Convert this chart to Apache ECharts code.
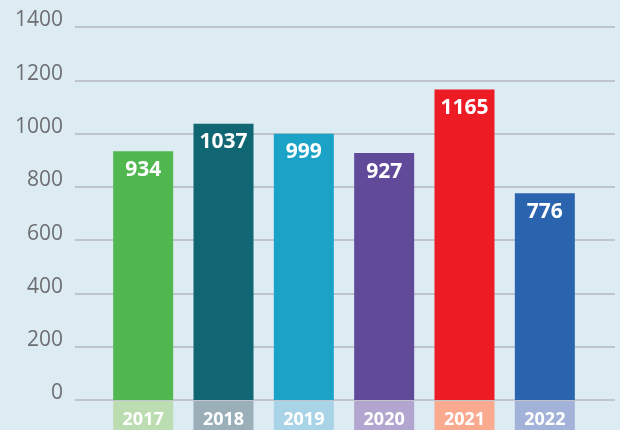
<!DOCTYPE html>
<html><head><meta charset="utf-8">
<script src="https://cdn.jsdelivr.net/npm/echarts@6/dist/echarts.min.js"></script>
<style>html,body{margin:0;padding:0;background:#ddebf3;}#c{width:620px;height:430px;}</style>
</head><body><div id="c"></div>
<script>
const years = ['2017','2018','2019','2020','2021','2022'];
const values = [934, 1037, 999, 927, 1165, 776];
const barColors = ['#51b84f','#106672','#1aa3c7','#624a9b','#ed1c24','#2a64ae'];
const labelBoxColors = ['#bcdcb1','#9aafb8','#a9d3e6','#b2a6d0','#f9aa8f','#a3b2d9'];
const yTicks = [0,200,400,600,800,1000,1200,1400];

const font = '"Open Sans", "Noto Sans", sans-serif';
const rich = {};
years.forEach((y,i)=>{
  rich['c'+i] = {backgroundColor: labelBoxColors[i], color:'#fff', fontSize:18, fontWeight:'bold',
    fontFamily: font, width:60, height:38, lineHeight:38, align:'center', padding:[0,0,0,0]};
});

const chart = echarts.init(document.getElementById('c'));
chart.setOption({
  backgroundColor:'#ddebf3',
  animation:false,
  grid:[
    {left:75,right:5,top:27,bottom:30,containLabel:false,outerBoundsMode:'none'},
    {left:103,right:35,top:27,bottom:30,containLabel:false,outerBoundsMode:'none'}
  ],
  xAxis:[
    {gridIndex:0,type:'value',show:false,min:0,max:1},
    {gridIndex:1,type:'category',data:years,
      axisLine:{show:false},axisTick:{show:false},
      axisLabel:{margin:1,verticalAlign:'top',formatter:(v,i)=>'{c'+i+'|'+v+'}',rich:rich}}
  ],
  yAxis:[
    {gridIndex:0,type:'value',min:yTicks[0],max:yTicks[yTicks.length-1],interval:200,
      axisLine:{show:false},axisTick:{show:false},
      axisLabel:{color:'#6d6e71',fontSize:21,fontFamily:font,margin:12,verticalAlign:'bottom',lineHeight:13,
        formatter:v=>String(v)},
      splitLine:{lineStyle:{color:'#b5b9bd',width:1.5}}},
    {gridIndex:1,type:'value',min:0,max:1400,show:false,splitLine:{show:false}}
  ],
  series:[{
    type:'bar',xAxisIndex:1,yAxisIndex:1,barWidth:60,
    data: values.map((v,i)=>({value:v,itemStyle:{color:barColors[i]}})),
    label:{show:true,position:'insideTop',distance:8,color:'#fff',fontSize:21,fontWeight:'bold',fontFamily:font}
  }]
});
</script></body></html>
